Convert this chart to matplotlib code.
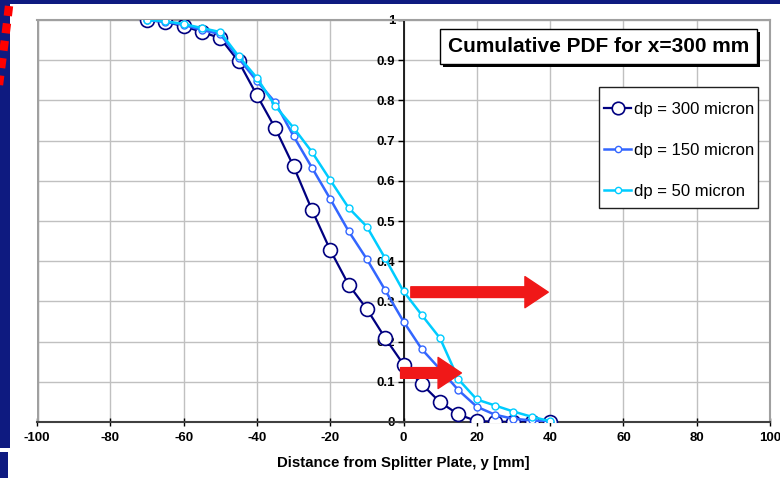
import matplotlib
matplotlib.use("Agg")
import matplotlib.pyplot as plt
from matplotlib.patches import Rectangle
from matplotlib.lines import Line2D

plt.rcParams['font.family'] = ['Liberation Sans', 'DejaVu Sans']
plt.rcParams['axes.unicode_minus'] = False

# data
y_pos = [-70, -65, -60, -55, -50, -45, -40, -35, -30, -25, -20, -15, -10, -5,
         0, 5, 10, 15, 20, 25, 30, 35, 40]
cdf_300 = [1.0, 0.995, 0.985, 0.97, 0.955, 0.897, 0.813, 0.731, 0.636, 0.528,
           0.428, 0.342, 0.281, 0.209, 0.143, 0.094, 0.049, 0.019, 0.002, 0.001,
           0.0, 0.0, 0.0]
cdf_150 = [1.0, 0.995, 0.988, 0.975, 0.965, 0.905, 0.848, 0.795, 0.711, 0.633,
           0.555, 0.475, 0.405, 0.328, 0.25, 0.181, 0.131, 0.079, 0.038, 0.018,
           0.008, 0.004, 0.001]
cdf_50 = [1.0, 0.997, 0.99, 0.98, 0.97, 0.91, 0.856, 0.786, 0.732, 0.672,
          0.602, 0.533, 0.486, 0.407, 0.325, 0.266, 0.208, 0.106, 0.056, 0.041,
          0.026, 0.013, 0.002]
labels = ['dp = 300 micron', 'dp = 150 micron', 'dp = 50 micron']
x_ticks = list(range(-100, 101, 20))
y_ticks = [0, 0.1, 0.2, 0.3, 0.4, 0.5, 0.6, 0.7, 0.8, 0.9, 1]
y_ticklabels = ['0', '0.1', '0.2', '0.3', '0.4', '0.5', '0.6', '0.7', '0.8', '0.9', '1']

navy_bg = '#0E1A80'

fig = plt.figure(figsize=(7.8, 4.78), dpi=100)
fig.patch.set_facecolor('white')

# navy slide border
W, H = 780.0, 478.0
fig.patches.append(Rectangle((0, 1 - 4 / H), 1, 4 / H, transform=fig.transFigure,
                             facecolor=navy_bg, edgecolor='none', zorder=0))
fig.patches.append(Rectangle((0, 30 / H), 10 / W, 1 - 30 / H, transform=fig.transFigure,
                             facecolor=navy_bg, edgecolor='none', zorder=0))
fig.patches.append(Rectangle((0, 0), 8 / W, 26 / H, transform=fig.transFigure,
                             facecolor=navy_bg, edgecolor='none', zorder=0))
# red dashed curve peeking in on the left
fig.lines.append(Line2D([9 / W, 7 / W, 5 / W, 3 / W, 1 / W, -1 / W],
                        [1 - 6 / H, 1 - 23 / H, 1 - 39 / H, 1 - 54 / H, 1 - 69 / H, 1 - 85 / H],
                        transform=fig.transFigure, color='red', lw=6,
                        dashes=(1.2, 0.9), solid_capstyle='butt'))

ax = fig.add_axes([37 / W, 56 / H, 733 / W, 402 / H])
ax.set_facecolor('white')

ax.plot(y_pos, cdf_300, color='#000080', lw=1.6, marker='o', ms=10,
        mfc='white', mec='#000080', mew=1.2, label=labels[0], zorder=5)
ax.plot(y_pos, cdf_150, color='#3366FF', lw=1.8, marker='o', ms=5,
        mfc='white', mec='#3366FF', mew=1.0, label=labels[1], zorder=6)
ax.plot(y_pos, cdf_50, color='#00CCFF', lw=1.8, marker='o', ms=5,
        mfc='white', mec='#00CCFF', mew=1.0, label=labels[2], zorder=7)

ax.set_xlim(-100, 100)
ax.set_ylim(0, 1)
ax.set_xticks(x_ticks)
ax.set_yticks(y_ticks)
ax.set_yticklabels(y_ticklabels)
ax.grid(True, color='#C0C0C0', lw=1.0)
ax.set_axisbelow(True)

ax.spines['left'].set_position(('data', 0))
ax.spines['left'].set_color('black')
ax.spines['left'].set_linewidth(1.2)
ax.spines['bottom'].set_color('#404040')
ax.spines['bottom'].set_linewidth(1.5)
for s in ['top', 'right']:
    ax.spines[s].set_color('#A0A0A0')
    ax.spines[s].set_linewidth(1.5)
ax.axvline(-100, color='#A0A0A0', lw=2.5, zorder=1)

ax.tick_params(axis='x', direction='inout', length=6, width=1, labelsize=9.5, pad=4)
ax.tick_params(axis='y', direction='out', length=4, width=1, labelsize=9.5, pad=2)
for lab in ax.get_xticklabels() + ax.get_yticklabels():
    lab.set_fontweight('bold')

ax.set_xlabel('Distance from Splitter Plate, y [mm]', fontsize=10.8,
              fontweight='bold', labelpad=9)

# red arrows
ax.annotate('', xy=(39.5, 0.323), xytext=(2.0, 0.323),
            arrowprops=dict(arrowstyle='simple,head_length=1.2,head_width=1.6,tail_width=0.55',
                            color='#F01818', mutation_scale=14, shrinkA=0, shrinkB=0),
            zorder=10)
ax.annotate('', xy=(15.8, 0.122), xytext=(-0.8, 0.122),
            arrowprops=dict(arrowstyle='simple,head_length=1.2,head_width=1.6,tail_width=0.55',
                            color='#F01818', mutation_scale=14, shrinkA=0, shrinkB=0),
            zorder=10)

# title box with shadow
bx0, bx1, by0, by1 = 440 / W, 757 / W, 1 - 64 / H, 1 - 29 / H
fig.patches.append(Rectangle((bx0 + 3 / W, by0 - 3 / H), bx1 - bx0, by1 - by0,
                             transform=fig.transFigure, facecolor='black',
                             edgecolor='none', zorder=20))
fig.patches.append(Rectangle((bx0, by0), bx1 - bx0, by1 - by0,
                             transform=fig.transFigure, facecolor='white',
                             edgecolor='black', lw=1, zorder=21))
fig.text((bx0 + bx1) / 2, (by0 + by1) / 2, 'Cumulative PDF for x=300 mm',
         ha='center', va='center', fontsize=15, fontweight='bold', zorder=22)

# legend: frame drawn separately so the box matches the original
lx0, lx1, ly0, ly1 = 599 / W, 758 / W, 1 - 208 / H, 1 - 87 / H
ax.add_patch(Rectangle((lx0, ly0), lx1 - lx0, ly1 - ly0, transform=fig.transFigure,
                       facecolor='white', edgecolor='#202020', lw=1.0,
                       zorder=8, clip_on=False))
leg = ax.legend(loc='center', bbox_to_anchor=((lx0 + lx1) / 2 + 1 / W, (ly0 + ly1) / 2 - 3 / H),
                bbox_transform=fig.transFigure, borderaxespad=0, fontsize=12,
                frameon=False, labelspacing=1.56, handlelength=1.6,
                handletextpad=0.2, borderpad=0, markerscale=0.9)
leg.set_zorder(9)

fig.savefig('out.png', dpi=100, facecolor=fig.get_facecolor())
